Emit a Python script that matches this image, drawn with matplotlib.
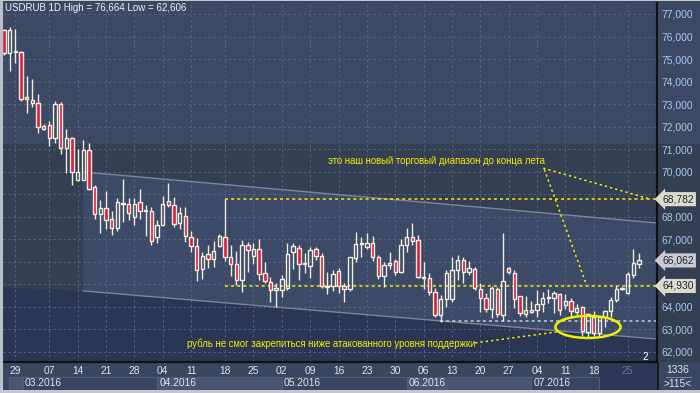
import numpy as np
import matplotlib.pyplot as plt
import matplotlib.transforms as mtransforms
from matplotlib.patches import Ellipse, Rectangle, Polygon

plt.rcParams['font.family'] = ['Liberation Sans', 'DejaVu Sans']

# ---------------------------------------------------- data (USDRUB daily candles)
open_ = [76.29, 75.25, 75.30, 75.30, 73.21, 73.17, 73.03, 72.02, 72.06, 71.48,
         72.99, 71.04, 71.48, 69.63, 69.63, 70.96, 69.31, 68.11, 68.38, 67.89,
         67.49, 68.55, 68.55, 67.98, 68.64, 68.25, 68.27, 67.12, 67.64, 68.69,
         68.51, 67.74, 68.05, 67.09, 66.69, 65.67, 66.33, 66.11, 66.69, 67.09,
         66.20, 65.89, 65.18, 66.73, 66.24, 66.56, 65.49, 65.09, 64.74, 64.74,
         64.83, 66.42, 66.60, 65.89, 65.80, 66.56, 66.24, 64.88, 64.91, 65.59,
         64.94, 64.78, 66.16, 66.78, 66.64, 66.82, 66.20, 65.36, 65.84, 66.02,
         65.53, 66.73, 67.09, 66.95, 65.27, 65.27, 64.65, 63.63, 64.34, 64.34,
         65.62, 66.07, 65.53, 65.67, 64.78, 64.38, 63.89, 64.78, 63.63, 65.71,
         65.49, 64.47, 63.67, 63.85, 63.85, 64.11, 64.38, 64.38, 64.56, 64.07,
         64.25, 63.76, 63.98, 62.87, 63.54, 62.83, 63.54, 63.80, 64.29, 64.78,
         64.60, 65.40, 65.89]
high = [76.35, 76.44, 76.33, 75.34, 74.25, 74.12, 73.45, 72.12, 72.25, 73.14,
        73.09, 71.90, 71.53, 71.01, 71.41, 71.29, 69.43, 68.75, 69.13, 68.27,
        68.82, 69.68, 68.82, 68.82, 69.23, 68.52, 68.42, 67.86, 68.94, 69.48,
        68.86, 68.45, 68.45, 67.37, 67.04, 66.42, 66.73, 66.93, 67.22, 68.78,
        66.73, 66.47, 66.97, 66.88, 66.82, 67.00, 65.99, 65.31, 65.05, 65.40,
        66.82, 66.84, 66.73, 66.38, 66.67, 66.65, 66.38, 65.53, 65.64, 65.71,
        65.05, 66.20, 67.32, 67.12, 67.26, 67.15, 66.30, 66.01, 66.42, 66.11,
        67.00, 67.49, 67.71, 67.21, 65.98, 65.49, 64.82, 64.53, 65.64, 66.23,
        66.30, 66.20, 66.05, 65.79, 65.05, 64.60, 64.93, 64.87, 67.26, 65.76,
        65.64, 64.50, 64.47, 64.26, 64.73, 64.65, 64.78, 64.72, 64.60, 64.56,
        64.38, 64.11, 64.02, 63.71, 63.82, 63.60, 63.85, 64.42, 64.97, 64.87,
        65.53, 66.57, 66.39]
low = [75.20, 74.49, 74.84, 73.15, 72.59, 72.89, 71.73, 71.86, 71.16, 71.29,
       70.77, 69.96, 69.43, 69.60, 69.63, 69.19, 67.90, 67.27, 67.46, 67.19,
       67.38, 67.78, 67.86, 67.64, 67.90, 67.15, 66.75, 66.85, 67.62, 68.45,
       67.53, 67.44, 66.90, 66.42, 65.17, 65.25, 65.74, 65.79, 66.65, 66.05,
       65.39, 64.96, 64.65, 65.53, 65.89, 65.18, 65.05, 64.20, 63.98, 64.43,
       64.74, 65.67, 65.18, 65.49, 65.27, 66.07, 64.83, 64.56, 64.72, 64.60,
       64.23, 64.72, 66.01, 66.23, 66.55, 66.05, 65.25, 64.90, 65.67, 65.43,
       65.50, 66.42, 66.73, 65.28, 64.78, 64.53, 63.54, 63.34, 64.01, 64.23,
       65.19, 65.08, 65.41, 64.75, 63.76, 63.79, 63.49, 63.57, 63.39, 65.45,
       63.94, 63.60, 63.54, 63.74, 63.54, 63.76, 64.16, 63.71, 63.64, 63.89,
       63.49, 63.64, 62.71, 62.60, 62.71, 62.68, 63.09, 63.54, 64.22, 64.76,
       64.58, 65.27, 65.74]
close = [75.25, 76.29, 75.35, 73.21, 73.30, 73.05, 72.00, 71.88, 71.48, 72.99,
         71.04, 71.48, 70.00, 70.00, 70.96, 69.22, 68.11, 68.38, 67.86, 67.49,
         68.64, 68.58, 68.15, 68.55, 68.27, 68.27, 66.94, 67.64, 68.55, 68.51,
         67.66, 68.15, 67.13, 66.69, 65.62, 66.27, 66.11, 66.47, 67.13, 66.20,
         65.89, 65.18, 66.73, 66.51, 66.56, 65.45, 65.13, 64.74, 64.83, 65.23,
         66.33, 66.69, 65.89, 65.93, 66.51, 66.24, 64.91, 64.93, 65.45, 64.93,
         64.78, 66.20, 66.78, 66.82, 66.82, 66.20, 65.36, 65.84, 65.93, 65.53,
         66.73, 67.09, 66.91, 65.31, 65.31, 64.65, 63.63, 64.34, 65.49, 65.62,
         66.07, 65.53, 65.71, 64.82, 64.38, 63.89, 64.82, 63.67, 65.13, 65.53,
         64.34, 63.71, 63.85, 63.76, 64.11, 64.38, 64.42, 64.60, 63.85, 64.25,
         63.80, 63.94, 62.92, 63.67, 62.83, 63.54, 63.80, 64.29, 64.78, 64.81,
         65.45, 65.93, 66.06]

week_pos = [2, 8, 13, 18, 23, 28, 33, 39, 44, 49, 54, 59, 64, 69, 74, 79, 84, 89, 94, 99, 104, 110]
week_labels = ['29', '07', '14', '21', '28', '04', '11', '18', '25', '02', '09',
               '16', '23', '30', '06', '13', '20', '27', '04', '11', '18', '25']
month_start = [0.9, 3.3, 27.0, 49.0, 71.0, 93.0]
month_labels = ['', '03.2016', '04.2016', '05.2016', '06.2016', '07.2016']
price_ticks = list(range(62, 78))
hidden_ticks = [65, 66, 69]   # covered by the price boxes

level_top = 68.782
level_mid = 64.930
level_low = 63.37
last_price = 66.062

# ---------------------------------------------------- colours
bg_mid = '#353f54'
bg_top = '#3d4964'
bg_chan = '#3c4967'
bg_navy = '#2b3554'
cream = '#f3ede0'
red = '#e01c3c'
yellow = '#f0f000'

W, H = 700, 393
fig = plt.figure(figsize=(7, 3.93), dpi=100)
fig.patch.set_facecolor('#3a4660')


def fr(x0, y0, x1, y1, c, z=-1):
    # rectangle in figure pixels (y from top)
    fig.patches.append(Rectangle((x0 / W, 1 - y1 / H), (x1 - x0) / W, (y1 - y0) / H,
                                 transform=fig.transFigure, color=c, zorder=z, lw=0))


# right price panel and bottom date panel
fr(657, 0, 700, 144, bg_top)
fr(657, 144, 700, 362, bg_mid)
fr(0, 362, 700, 390, '#3a4660')
fr(599, 362, 657, 390, '#2d3654')
fr(657, 362, 700, 390, '#3b4762')
# window frame
fr(0, 0, 3, 393, '#b9c0cc', 5)
fr(0, 390, 700, 393, '#c3c8d0', 5)
fr(0, 0, 700, 1, '#c3c8d0', 5)
fr(657, 362, 659, 390, '#1a1a1a', 5)

ax = fig.add_axes([3 / W, 31 / H, 654 / W, 359 / H])
ax.set_xlim(-0.176, 115.17)
ax.set_ylim(61.554, 77.488)
ax.set_facecolor(bg_mid)

# background zones
ax.axhspan(71.23, 78, color=bg_top, lw=0, zorder=0.1)
ax.add_patch(Polygon([(13.93, 69.99), (115.3, 67.72), (115.3, 62.57), (13.93, 64.71)],
                     closed=True, color=bg_chan, lw=0, zorder=0.1))
ax.add_patch(Polygon([(-1, 64.88), (13.93, 64.71), (115.3, 62.57), (115.3, 61), (-1, 61)],
                     closed=True, color=bg_navy, lw=0, zorder=0.1))

# grid
ax.set_xticks(week_pos)
ax.set_yticks(price_ticks)
ax.set_axisbelow(True)
ax.grid(color='#5a6683', linestyle=(0, (3, 3)), lw=0.6, zorder=0.5)

# channel lines
ax.plot([13.93, 115.3], [69.99, 67.72], color='#7d869a', lw=1, zorder=1)
ax.plot([13.93, 115.3], [64.71, 62.57], color='#7d869a', lw=1, zorder=1)

# ---------------------------------------------------- candles
o = np.array(open_)
c = np.array(close)
hi = np.array(high)
lo = np.array(low)
x = np.arange(len(c))
up = c >= o
b_lo = np.minimum(o, c)
b_hi = np.maximum(o, c)
b_h = np.maximum(b_hi - b_lo, 0.045)
ax.vlines(x, b_hi, hi, color=cream, lw=1, zorder=3)
ax.vlines(x, lo, b_lo, color=cream, lw=1, zorder=3)
ax.bar(x[up], b_h[up], bottom=b_lo[up], width=0.6, facecolor='none',
       edgecolor=cream, lw=1, zorder=4)
ax.bar(x[~up], b_h[~up], bottom=b_lo[~up], width=0.6, facecolor=red,
       edgecolor=cream, lw=1, zorder=4)

# ---------------------------------------------------- levels and notes
ax.plot([39, 115.3], [level_top, level_top], color=yellow, lw=1.1, ls=(0, (2, 2)), zorder=2)
ax.plot([39, 115.3], [level_mid, level_mid], color=yellow, lw=1.1, ls=(0, (2, 2)), zorder=2)
ax.plot([76.9, 115.3], [level_low, level_low], color='#c8ccd4', lw=1.1, ls=(0, (2, 2)), zorder=2)

ax.plot([95.1, 113.9], [70.16, 68.79], color=yellow, lw=1.1, ls=(0, (1.5, 2)), zorder=5)
ax.plot([95.3, 102.8], [70.10, 64.93], color=yellow, lw=1.1, ls=(0, (1.5, 2)), zorder=5)
ax.plot([83.1, 97.5], [62.40, 62.89], color=yellow, lw=1.1, ls=(0, (1.5, 2)), zorder=5)
ax.add_patch(Ellipse((103.0, 63.11), 11.5, 0.98, fill=False, ec=yellow, lw=1.8, zorder=6))

ax.text(57.1, 70.48, 'это наш новый торговый диапазон до конца лета', color=yellow,
        fontsize=6.9, va='center', ha='left', zorder=6)
ax.text(32.3, 62.35, 'рубль не смог закрепиться ниже атакованного уровня поддержки', color=yellow,
        fontsize=6.9, va='center', ha='left', zorder=6)

# ---------------------------------------------------- axes look
for s in ['left', 'top']:
    ax.spines[s].set_visible(False)
ax.spines['right'].set_color('#111111')
ax.spines['right'].set_linewidth(1.6)
ax.spines['bottom'].set_color('#111111')
ax.spines['bottom'].set_linewidth(1.6)

ax.yaxis.tick_right()
ax.set_yticklabels(['' if v in hidden_ticks else f'{v},000' for v in price_ticks])
ax.tick_params(axis='y', length=0, pad=3, labelsize=7.4, labelcolor='#a9c6ef')
ax.set_xticklabels(week_labels)
ax.tick_params(axis='x', length=0, pad=3, labelsize=7.4, labelcolor='#dfe4ec')
ax.get_xticklabels()[-1].set_color('#6c7791')

# price boxes on the right axis
tr = mtransforms.blended_transform_factory(ax.transAxes, ax.transData)
for v, fc in [(level_top, '#dcdccc'), (level_mid, '#dcdccc'), (last_price, '#c9ccd6')]:
    ax.text(1.008, v, f'{v:.3f}'.replace('.', ','), transform=tr, fontsize=7.4, color='#1e2230',
            va='center', ha='left', clip_on=False, zorder=10,
            bbox=dict(boxstyle='larrow,pad=0.2', fc=fc, ec='none'))

# month row
trx = mtransforms.blended_transform_factory(ax.transData, fig.transFigure)
for i, (m0, lab) in enumerate(zip(month_start, month_labels)):
    m1 = month_start[i + 1] if i + 1 < len(month_start) else 104.9
    fc = '#4a5670' if i % 2 == 0 else '#3a4660'
    fig.patches.append(Rectangle((m0, 1 - 390 / H), m1 - m0, 13 / H, transform=trx,
                                 fc=fc, ec='#56627a', lw=0.6, zorder=-0.5))
    ax.text(m0 + 0.4, 1 - 383.5 / H, lab, transform=trx, fontsize=7.4, color='#dfe4ec',
            va='center', ha='left', clip_on=False)

fig.text(645 / W, 1 - 357 / H, '2', fontsize=7.4, color='white', ha='center', va='center')
fig.text(678 / W, 1 - 370 / H, '1336', fontsize=7.4, color='#dfe4ec', ha='center', va='center')
fig.text(678 / W, 1 - 384 / H, '>115<', fontsize=7.4, color='#dfe4ec', ha='center', va='center')
fig.lines.append(plt.Line2D([666 / W, 691 / W], [1 - 377 / H, 1 - 377 / H],
                            transform=fig.transFigure, color='#8a94a8', lw=0.6))

fig.text(5 / W, 1 - 8 / H, 'USDRUB 1D High = 76,664 Low = 62,606', fontsize=7.0,
         color='#eef0f4', ha='left', va='center')

plt.savefig('out.png', dpi=100, facecolor=fig.get_facecolor())
